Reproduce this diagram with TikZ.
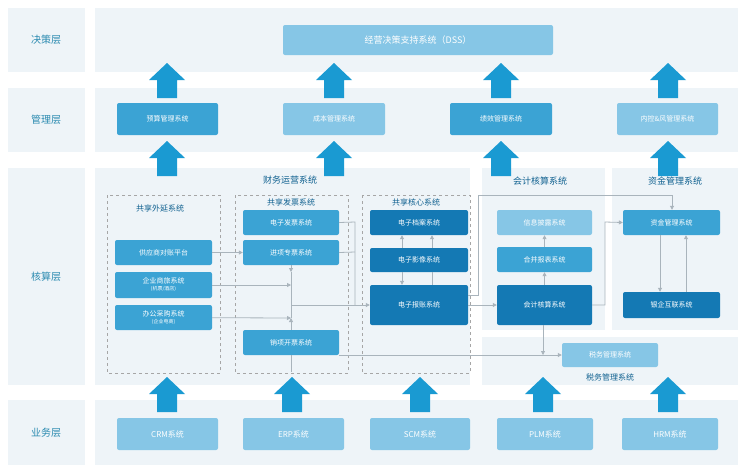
\documentclass[tikz,border=0pt]{standalone}
\usepackage{fontspec}
\setmainfont{Noto Sans CJK SC}
\usetikzlibrary{arrows.meta}
\definecolor{panel}{HTML}{EEF4F8}
\definecolor{labtxt}{HTML}{2A8AB0}
\definecolor{midblue}{HTML}{3BA3D4}
\definecolor{lightblue}{HTML}{86C6E6}
\definecolor{darkblue}{HTML}{1479B4}
\definecolor{bigarrow}{HTML}{1A9AD2}
\definecolor{conn}{HTML}{A9B4BC}
\tikzset{
  layer/.style={fill=panel, draw=none},
  layerlab/.style={text=labtxt, font=\fontsize{10}{12}\selectfont},
  sys/.style={rounded corners=2pt, fill=midblue, text=white, font=\fontsize{7}{8}\selectfont, align=center, inner sep=0pt},
  systxt/.style={text=white, font=\fontsize{7}{8}\selectfont, align=center, inner sep=0pt},
  grp/.style={draw=gray!70, dashed, thick},
  grplab/.style={text=darkblue!80!black, font=\fontsize{8}{10}\selectfont},
  conn/.style={draw=conn, line width=0.8pt},
  arr/.style={conn, -{Triangle[length=4pt,width=4pt]}},
}
% box from corner to corner, with its text
\newcommand\sysbox[7][]{\node[sys,#1,minimum width=#4-#2, minimum height=#5-#3] (#6) at ({(#2+#4)/2},{(#3+#5)/2}) {#7};}
\newcommand\bigup[2]{\fill[bigarrow] (#1-10,#2) -- (#1-10,#2-18) -- (#1-18,#2-18) -- (#1,#2-35) -- (#1+18,#2-18) -- (#1+10,#2-18) -- (#1+10,#2) -- cycle;}
\begin{document}
\begin{tikzpicture}[x=1pt,y=-1pt]
\useasboundingbox (0,0) rectangle (744,475);
\fill[white] (0,0) rectangle (744,475);
% layers
\foreach \ya/\yb/\lab in {8/72/决策层, 88/152/管理层, 168/385/核算层, 400/465/业务层} {
  \fill[layer] (8,\ya) rectangle (85,\yb);
  \node[layerlab] at (46,{(\ya+\yb)/2}) {\lab};
}
\fill[layer] (95,8) rectangle (738,72);
\fill[layer] (95,88) rectangle (738,152);
\fill[layer] (95,400) rectangle (738,465);
\fill[layer] (95,168) rectangle (470,385);
\fill[layer] (482,168) rectangle (605,330);
\fill[layer] (612,168) rectangle (738,330);
\fill[layer] (482,337) rectangle (738,385);
% big arrows
\foreach \x in {167,334,501,668} { \bigup{\x}{98} \bigup{\x}{176} }
\foreach \x in {167,292,420,543,668} { \bigup{\x}{412} }
% decision and management
\sysbox[fill=lightblue, font=\fontsize{9}{10}\selectfont]{283}{25}{553}{55}{dss}{经营决策支持系统（DSS）}
\sysbox{117}{103}{218}{135}{ys}{预算管理系统}
\sysbox[fill=lightblue]{283}{103}{385}{135}{cb}{成本管理系统}
\sysbox{450}{103}{552}{135}{jx}{绩效管理系统}
\sysbox[fill=lightblue]{617}{103}{718}{135}{nk}{内控\&风管理系统}
% accounting layer groups
\node[grplab, font=\fontsize{9}{11}\selectfont] (cwyy) at (290,180) {财务运营系统};
\draw[grp] (107,195) rectangle (220,373);
\draw[grp] (235,195) rectangle (348,373);
\draw[grp] (362,195) rectangle (470,373);
\node[grplab] (wy) at (160,208) {共享外延系统};
\node[grplab] (fp) at (291,202) {共享发票系统};
\node[grplab] (hx) at (416,202) {共享核心系统};
\node[grplab, font=\fontsize{9}{11}\selectfont] (kjhs) at (540,181) {会计核算系统};
\node[grplab, font=\fontsize{9}{11}\selectfont] (zjgl) at (675,181) {资金管理系统};
\node[grplab] (swgl) at (610,377) {税务管理系统};
% systems
\sysbox{243}{210}{339}{235}{dzfp}{电子发票系统}
\sysbox{243}{240}{339}{265}{jxzp}{进项专票系统}
\sysbox{243}{330}{339}{355}{xxkp}{销项开票系统}
\sysbox{115}{240}{212}{265}{gys}{供应商对账平台}
\sysbox{115}{272}{212}{298}{qysl}{企业商旅系统\\[-1pt]{\fontsize{5}{6}\selectfont (机票/酒店)}}
\sysbox{115}{305}{212}{330}{bgcg}{办公采购系统\\[-1pt]{\fontsize{5}{6}\selectfont (企业电商)}}
\sysbox[fill=darkblue]{370}{210}{468}{235}{dzda}{电子档案系统}
\sysbox[fill=darkblue]{370}{248}{468}{272}{dzyx}{电子影像系统}
\sysbox[fill=darkblue]{370}{285}{468}{325}{dzbz}{电子报账系统}
\sysbox[fill=lightblue]{497}{210}{592}{235}{xxpl}{信息披露系统}
\sysbox{497}{247}{592}{272}{hbbb}{合并报表系统}
\sysbox[fill=darkblue]{497}{285}{592}{325}{kjhsx}{会计核算系统}
\sysbox{623}{210}{720}{235}{zjglx}{资金管理系统}
\sysbox[fill=darkblue]{623}{292}{720}{318}{yqhl}{银企互联系统}
\sysbox[fill=lightblue]{562}{343}{658}{367}{swglx}{税务管理系统}
% business layer
\foreach \xa/\xb/\nm/\lab in {117/218/crm/CRM系统, 243/344/erp/ERP系统, 370/470/scm/SCM系统, 497/593/plm/PLM系统, 622/718/hrm/HRM系统} {
  \sysbox[fill=lightblue, font=\fontsize{8}{9}\selectfont]{\xa}{418}{\xb}{450}{\nm}{\lab}
}
% connectors
\coordinate (j1) at (291,285);
\coordinate (j2) at (291,318);
\coordinate (j3) at (291,305);
\draw[arr] (gys) -- (jxzp.west |- gys);
\draw[arr] (qysl) -- (j1);
\draw[arr] (bgcg) -- (j2);
\draw[arr] (jxzp.south -| j1) -- (j1 |- 0,272);
\draw[conn] (j1 |- 0,272) -- (j2);
\draw[arr] (xxkp.north -| j2) -- (j2);
\draw[conn] (dzfp.east) -- (355,222) -- (355,305);
\draw[conn] (jxzp.east) -- (355,252);
\draw[arr] (j3) -- (dzbz.west |- j3);
\draw[conn] (xxkp.south -| j2) -- (291,372);
\draw[arr] (xxkp.east |- 0,355) -- (swglx.west |- 0,355);
\draw[arr] (kjhsx.south -| 543,0) -- (543,355);
\draw[arr] (dzyx.north -| 402,0) -- (dzda.south -| 402,0);
\draw[arr] (dzyx.north -| 432,0) -- (dzda.south -| 432,0);
\draw[arr] (dzyx.south -| 402,0) -- (dzbz.north -| 402,0);
\draw[conn] (dzbz.north -| 432,0) -- (dzyx.south -| 432,0);
\draw[arr] (dzbz.east |- 0,305) -- (kjhsx.west |- 0,305);
\draw[arr] (dzbz.east |- 0,295) -- (478,295) -- (478,195) -- (672,195) -- (zjglx.north -| 672,0);
\draw[arr] (hbbb) -- (xxpl);
\draw[arr] (kjhsx) -- (hbbb);
\draw[arr] (kjhsx.east |- 0,305) -- (605,305) -- (605,222) -- (zjglx.west);
\draw[arr] (zjglx.south -| 660,0) -- (yqhl.north -| 660,0);
\draw[arr] (yqhl.north -| 686,0) -- (zjglx.south -| 686,0);
\end{tikzpicture}
\end{document}
